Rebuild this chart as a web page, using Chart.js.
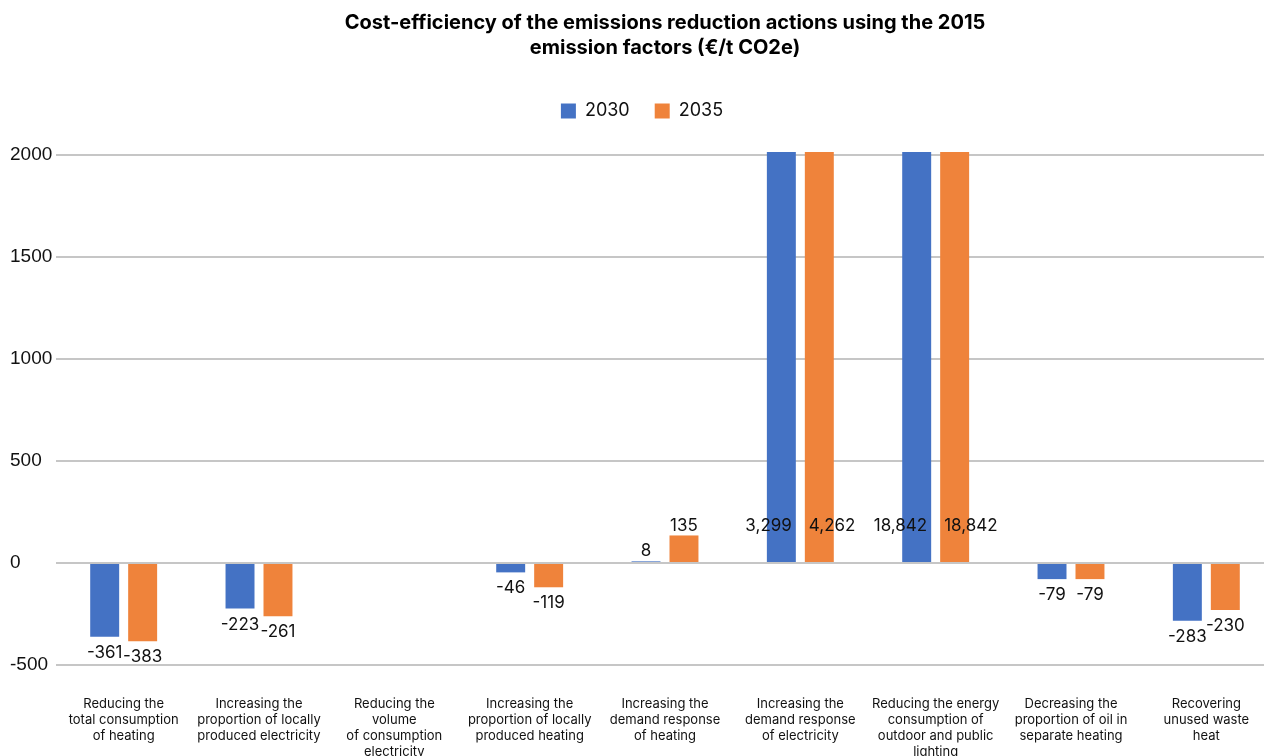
<!DOCTYPE html>
<html>
<head>
<meta charset="utf-8">
<script src="https://cdn.jsdelivr.net/npm/chart.js@4.4.1/dist/chart.umd.min.js"></script>
<style>
html,body{margin:0;padding:0;background:#fff;overflow:hidden;}
#wrap{width:1274px;height:780px;}
</style>
</head>
<body>
<div id="wrap"><canvas id="c" width="1274" height="780"></canvas></div>
<script>
const categories = [
  ["Reducing the", "total consumption", "of heating"],
  ["Increasing the", "proportion of locally", "produced electricity"],
  ["Reducing the", "volume", "of consumption", "electricity"],
  ["Increasing the", "proportion of locally", "produced heating"],
  ["Increasing the", "demand response", "of heating"],
  ["Increasing the", "demand response", "of electricity"],
  ["Reducing the energy", "consumption of", "outdoor and public", "lighting"],
  ["Decreasing the", "proportion of oil in", "separate heating"],
  ["Recovering", "unused waste", "heat"]
];
const series2030 = [-361, -223, null, -46, 8, 3299, 18842, -79, -283];
const series2035 = [-383, -261, null, -119, 135, 4262, 18842, -79, -230];
const seriesNames = ["2030", "2035"];
const yTicks = [-500, 0, 500, 1000, 1500, 2000];
const titleLines = ["Cost-efficiency of the emissions reduction actions using the 2015", "emission factors (€/t CO2e)"];

const BLUE = "#4472C4", ORANGE = "#EF833B";
const Y_MIN = yTicks[0], Y_MAX = yTicks[yTicks.length - 1];
const CANVAS_H = 780;

const labelPlugin = {
  id: "valueLabels",
  afterDatasetsDraw(chart) {
    const ctx = chart.ctx;
    const y = chart.scales.y;
    const zero = y.getPixelForValue(0);
    ctx.save();
    ctx.font = "17px Inter, 'Liberation Sans', sans-serif";
    ctx.fillStyle = "#111";
    ctx.textBaseline = "middle";
    chart.data.datasets.forEach((ds, di) => {
      const meta = chart.getDatasetMeta(di);
      meta.data.forEach((bar, i) => {
        const v = ds.data[i];
        if (v === null || v === undefined) return;
        const txt = v.toLocaleString("en-US");
        const w = bar.width;
        if (v > Y_MAX) {
          const ly = zero - 37;
          if (di === 0) { ctx.textAlign = "right"; ctx.fillText(txt, bar.x + w / 2 - 4, ly); }
          else { ctx.textAlign = "left"; ctx.fillText(txt, bar.x - w / 2 + 4, ly); }
        } else if (v >= 0) {
          ctx.textAlign = "center";
          ctx.fillText(txt, bar.x, y.getPixelForValue(v) - 10);
        } else {
          ctx.textAlign = "center";
          ctx.fillText(txt, bar.x, y.getPixelForValue(v) + 16);
        }
      });
    });
    ctx.restore();
  }
};

new Chart(document.getElementById("c"), {
  type: "bar",
  data: {
    labels: categories,
    datasets: [
      { label: seriesNames[0], data: series2030, backgroundColor: BLUE, clip: {left: 0, top: 3, right: 0, bottom: 0} },
      { label: seriesNames[1], data: series2035, backgroundColor: ORANGE, clip: {left: 0, top: 3, right: 0, bottom: 0} }
    ]
  },
  options: {
    responsive: false,
    animation: false,
    layout: { padding: { left: 10, right: 0, top: 0, bottom: 0 } },
    datasets: { bar: { categoryPercentage: 0.561, barPercentage: 0.763 } },
    plugins: {
      title: {
        display: true,
        fullSize: false,
        text: titleLines,
        color: "#000",
        font: { family: "Inter, 'Liberation Sans', sans-serif", size: 20, weight: "bold", lineHeight: 1.25 },
        padding: { top: 10, bottom: 17 }
      },
      legend: {
        display: true,
        position: "top",
        labels: {
          color: "#111",
          font: { family: "Inter, 'Liberation Sans', sans-serif", size: 18 },
          boxWidth: 15,
          boxHeight: 15,
          padding: 25
        }
      },
      tooltip: { enabled: false }
    },
    scales: {
      x: {
        grid: { display: false, drawTicks: false },
        border: { display: false },
        ticks: {
          autoSkip: false,
          maxRotation: 0,
          minRotation: 0,
          color: "#111",
          padding: 31,
          font: { family: "Inter, 'Liberation Sans', sans-serif", size: 13, lineHeight: 1.23 }
        },
        afterFit(scale) { scale.height = CANVAS_H - 665; scale.paddingLeft = 0; scale.paddingRight = 0; }
      },
      xTopSpace: {
        type: "category",
        position: "top",
        display: true,
        grid: { display: false, drawTicks: false },
        border: { display: false },
        ticks: { display: false },
        afterFit(scale) { scale.height = 25; scale.paddingLeft = 0; scale.paddingRight = 0; }
      },
      y: {
        min: Y_MIN,
        max: Y_MAX,
        afterBuildTicks(scale) { scale.ticks = yTicks.map(v => ({ value: v })); },
        grid: { color: "#c6c6c6", lineWidth: 2, drawTicks: false },
        border: { display: false },
        ticks: {
          color: "#111",
          crossAlign: "far",
          padding: 4,
          font: { family: "'Liberation Sans', Arial, sans-serif", size: 19 },
          callback: (v) => String(v)
        },
        afterFit(scale) { scale.width = 46; }
      }
    }
  },
  plugins: [labelPlugin]
});
</script>
</body>
</html>
